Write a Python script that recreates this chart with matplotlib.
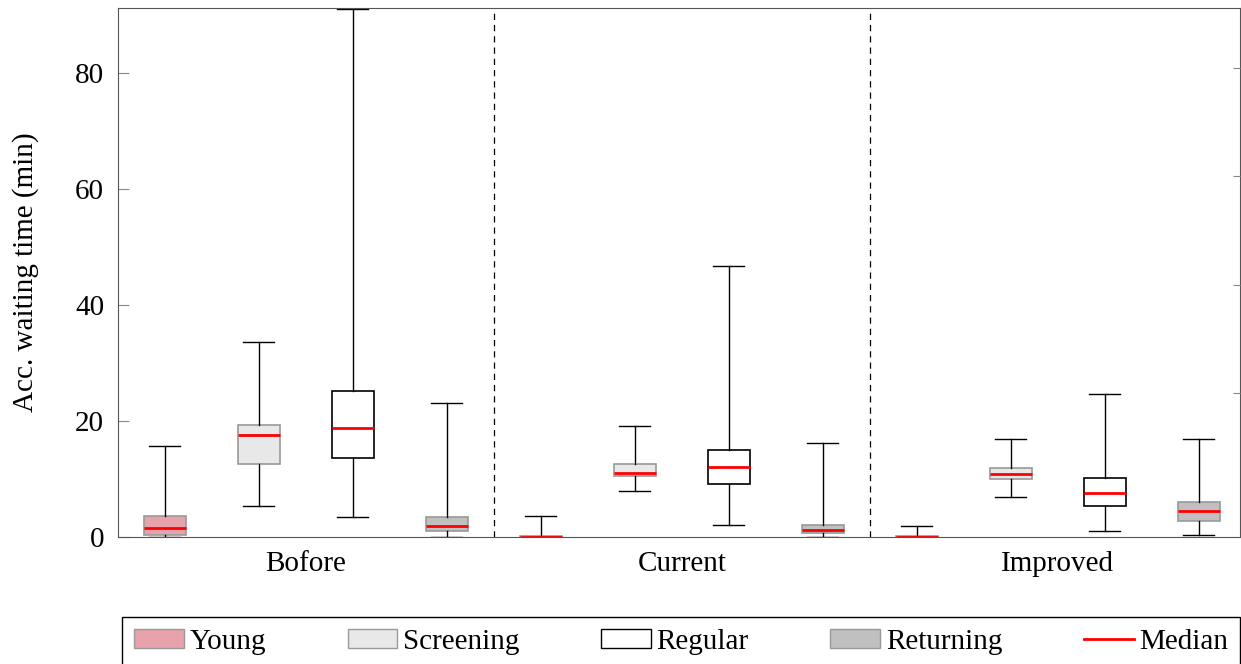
import matplotlib
matplotlib.use("Agg")
import matplotlib.pyplot as plt
from matplotlib.patches import Patch
from matplotlib.lines import Line2D

plt.rcParams["font.family"] = ["Liberation Serif", "DejaVu Serif"]
plt.rcParams["font.size"] = 21

# scenarios and patient types
groups = ["Bofore", "Current", "Improved"]
types = ["Young", "Screening", "Regular", "Returning"]
colors = ["#e8a2ab", "#e8e8e8", "#ffffff", "#c0c0c0"]
edges = ["#999999", "#999999", "#000000", "#999999"]

# box statistics per group, in type order (minutes)
whislo = [[0.0, 5.3, 3.4, 0.0],
          [0.0, 7.9, 2.1, 0.0],
          [0.0, 6.9, 1.0, 0.3]]
q1 = [[0.4, 12.6, 13.6, 1.0],
      [0.0, 10.5, 9.1, 0.7],
      [0.0, 10.0, 5.3, 2.8]]
med = [[1.6, 17.6, 18.8, 1.9],
       [0.05, 11.0, 12.1, 1.2],
       [0.05, 10.9, 7.6, 4.5]]
q3 = [[3.7, 19.3, 25.2, 3.4],
      [0.1, 12.6, 15.0, 2.1],
      [0.1, 11.9, 10.2, 6.0]]
whishi = [[15.7, 33.6, 91.0, 23.1],
          [3.6, 19.1, 46.7, 16.2],
          [1.9, 16.9, 24.7, 16.9]]

fig = plt.figure(figsize=(12.41, 6.64), dpi=100)
ax = fig.add_axes([118 / 1241, 1 - 537 / 664, 1122 / 1241, 529 / 664])

for g in range(len(groups)):
    for t in range(len(types)):
        st = [dict(whislo=whislo[g][t], q1=q1[g][t], med=med[g][t],
                   q3=q3[g][t], whishi=whishi[g][t], fliers=[])]
        ax.bxp(st, positions=[g * 4 + t], widths=0.45, patch_artist=True,
               showfliers=False,
               boxprops=dict(facecolor=colors[t], edgecolor=edges[t], lw=1.2),
               medianprops=dict(color="red", lw=2),
               whiskerprops=dict(color="black", lw=1),
               capprops=dict(color="black", lw=1),
               capwidths=0.33)

for xd in [3.5, 7.5]:
    ax.axvline(xd, color="black", ls=(0, (5, 4)), lw=0.9)

ax.set_xlim(-0.5, 11.44)
ax.set_ylim(0, 91.2)
ax.set_xticks([1.5, 5.5, 9.5])
ax.set_xticklabels(groups)
ax.tick_params(axis="x", length=0, pad=10)
ax.set_yticks([0, 20, 40, 60, 80])
ax.tick_params(axis="y", direction="in", length=8, color="#888888", pad=10)
ax.set_ylabel("Acc. waiting time (min)", labelpad=26)
for s in ax.spines.values():
    s.set_color("#555555")

ax2 = ax.twinx()
ax2.set_ylim(0, 91.2)
ax2.set_yticks([24.8, 43.4, 62.2, 80.9])
ax2.set_yticklabels([])
ax2.tick_params(axis="y", direction="in", length=5, color="#888888")
for s in ax2.spines.values():
    s.set_visible(False)

handles = [Patch(facecolor=c, edgecolor=e, lw=1) for c, e in zip(colors, edges)]
handles.append(Line2D([], [], color="red", lw=2))
ax.legend(handles, types + ["Median"], loc="upper left", ncol=5,
          bbox_to_anchor=(0.004, -0.25, 0.996, 0.099), mode="expand",
          frameon=True, fancybox=False, edgecolor="black", framealpha=1,
          borderaxespad=0, handlelength=1.7, handleheight=0.65,
          handletextpad=0.2, borderpad=0.4)

fig.savefig("out.png", dpi=100)
